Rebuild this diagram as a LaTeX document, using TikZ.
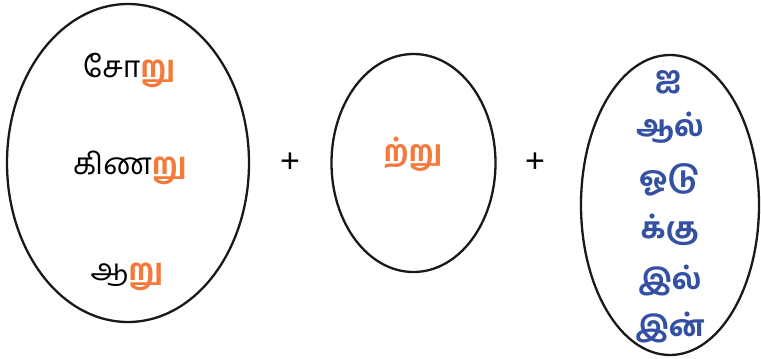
\documentclass[tikz,border=0pt]{standalone}
\usepackage{fontspec}
\newfontfamily\tamil[Script=Tamil]{Hind Madurai}
\newfontfamily\tamilbf[Script=Tamil]{Hind Madurai Bold}
\newfontfamily\plusfont{Liberation Sans}
\definecolor{sufx}{HTML}{F47A3C}
\definecolor{casec}{HTML}{3450A2}
\begin{document}
\begin{tikzpicture}[x=1pt,y=-1pt,
  oval/.style={draw=black!90,line width=2.3pt},
  word/.style={font=\tamil\fontsize{30}{32}\selectfont,inner sep=0pt,anchor=base},
  cword/.style={font=\tamilbf\fontsize{29}{32}\selectfont,text=casec,inner sep=0pt,anchor=base},
  plus/.style={font=\plusfont\fontsize{34}{36}\selectfont,inner sep=0pt}]
\useasboundingbox (0,0) rectangle (761,359);
\draw[oval] (128,163) ellipse [x radius=121,y radius=159];
\draw[oval] (413.5,163) ellipse [x radius=82,y radius=109];
\draw[oval] (670,205) ellipse [x radius=89,y radius=150];
\node[word] (w1) at (129,77) {சோ{\tamilbf\color{sufx}று}};
\node[word] (w2) at (130,174) {கிண{\tamilbf\color{sufx}று}};
\node[word] (w3) at (127,280) {ஆ{\tamilbf\color{sufx}று}};
\node[plus] (p1) at (290,163) {+};
\node[plus] (p2) at (535,163) {+};
\node[word,font=\tamilbf\fontsize{29}{32}\selectfont,text=sufx] (m) at (413,161) {ற்று};
\node[cword] (c1) at (668,87) {ஐ};
\node[cword] (c2) at (670,136) {ஆல்};
\node[cword] (c3) at (670,187) {ஓடு};
\node[cword] (c4) at (670,238) {க்கு};
\node[cword] (c5) at (670,289) {இல்};
\node[cword] (c6) at (670,336) {இன்};
\end{tikzpicture}
\end{document}
